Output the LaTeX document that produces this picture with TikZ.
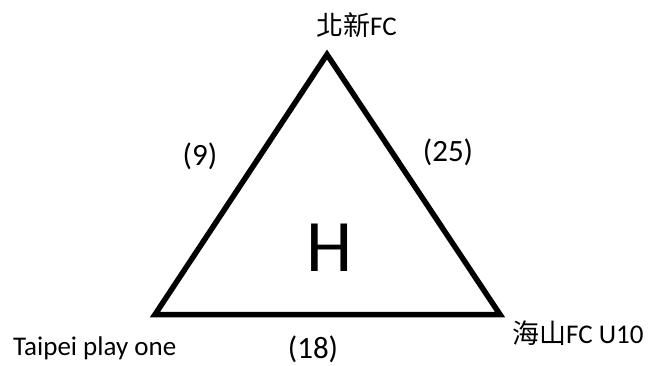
\documentclass[tikz,border=0pt]{standalone}
\usepackage{fontspec}
\setmainfont{Carlito}
\newfontfamily\cjk{Noto Sans CJK TC}
\begin{document}
\begin{tikzpicture}[x=1pt,y=-1pt,line join=miter,font=\fontsize{27}{32}\selectfont,
	side/.style={line width=5.5pt},
	weight/.style={inner sep=0,font=\fontsize{31}{36}\selectfont}]
	\useasboundingbox (0,0) rectangle (648,365);
	\coordinate (beixin) at (327,54.5);
	\coordinate (taipei) at (155,314.5);
	\coordinate (haishan) at (500,314.5);
	\draw[side] (taipei)--(beixin)--(haishan)--cycle;
	\node[anchor=base west,inner sep=0] (lbeixin) at (316,35) {{\cjk 北新}FC};
	\node[anchor=base west,inner sep=0] (ltaipei) at (13,355) {Taipei play one};
	\node[anchor=base west,inner sep=0] (lhaishan) at (512,343) {{\cjk 海山}FC U10};
	\node[weight] (wnine) at (200,156) {(9)};
	\node[weight] (wtwentyfive) at (448,152) {(25)};
	\node[weight,anchor=base] (weighteen) at (313,358) {(18)};
	\node[inner sep=0,font=\fontsize{74}{78}\selectfont] (group) at (330,248) {H};
\end{tikzpicture}
\end{document}
